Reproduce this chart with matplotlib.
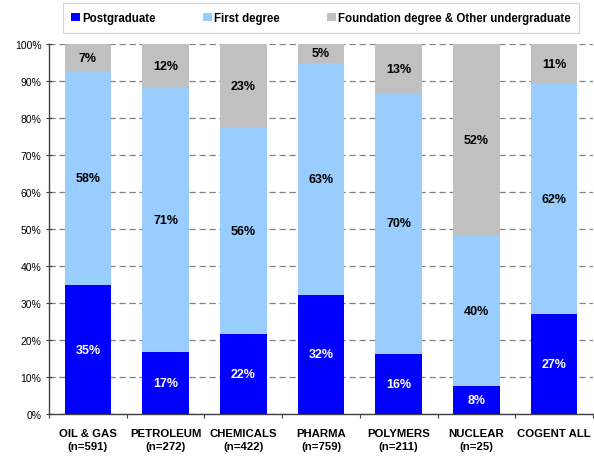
import matplotlib
matplotlib.use("Agg")
import matplotlib.pyplot as plt
import numpy as np

plt.rcParams['font.family'] = ['Liberation Sans', 'DejaVu Sans']

categories = ["OIL & GAS\n(n=591)", "PETROLEUM\n(n=272)", "CHEMICALS\n(n=422)",
              "PHARMA\n(n=759)", "POLYMERS\n(n=211)", "NUCLEAR\n(n=25)", "COGENT ALL"]
postgraduate = [34.8, 16.7, 21.6, 32.2, 16.3, 7.7, 27.1]
first_degree = [57.8, 71.4, 55.7, 62.8, 70.4, 40.4, 62.0]
other_ug = [7.4, 11.9, 22.7, 5.0, 13.3, 51.9, 10.9]
series_names = ["Postgraduate", "First degree", "Foundation degree & Other undergraduate"]
yticks = [0, 10, 20, 30, 40, 50, 60, 70, 80, 90, 100]

colors = ["#0000FF", "#99CCFF", "#C0C0C0"]
text_colors = ["white", "black", "black"]

fig = plt.figure(figsize=(5.94, 4.6), dpi=100)
ax = fig.add_axes([49/594, 1-415/460, 544/594, 370/460])

x = np.arange(len(categories))
bottom = np.zeros(len(categories))
handles = []
for vals, col, tc, name in zip([postgraduate, first_degree, other_ug], colors, text_colors, series_names):
    vals = np.array(vals)
    b = ax.bar(x, vals, bottom=bottom, width=0.6, color=col, zorder=3, label=name)
    handles.append(b)
    for xi, v, bt in zip(x, vals, bottom):
        ax.text(xi, bt + v/2, f"{round(v):d}%", ha='center', va='center',
                color=tc, fontsize=9, fontweight='bold', zorder=4)
    bottom += vals

ax.set_xlim(-0.5, len(categories)-0.5)
ax.set_ylim(0, 100)
ax.set_yticks(yticks)
ax.set_yticklabels([f"{t}%" for t in yticks], fontsize=7.5)
ax.yaxis.grid(True, linestyle=(0, (5, 3)), color='#808080', linewidth=0.9, zorder=0)
ax.set_axisbelow(True)

ax.set_xticks(np.arange(-0.5, len(categories)-0.4, 1.0))
ax.set_xticklabels([])
ax.set_xticks(x, minor=True)
ax.set_xticklabels(categories, minor=True, fontsize=8.2, fontweight='bold',
                   linespacing=1.35)
ax.tick_params(axis='x', which='minor', length=0, pad=10)
ax.tick_params(axis='x', which='major', length=3, direction='out', color='#404040')
ax.tick_params(axis='y', length=5, direction='inout', color='#404040', pad=3)

for s in ['top', 'right']:
    ax.spines[s].set_visible(False)
for s in ['left', 'bottom']:
    ax.spines[s].set_color('#404040')
    ax.spines[s].set_linewidth(1.0)

leg = fig.legend(handles=handles, labels=series_names, loc='center',
                 bbox_to_anchor=(321/594, 1-19/460), ncol=3,
                 frameon=True, fancybox=False, edgecolor='#C8C8C8',
                 handlelength=0.75, handleheight=0.75, handletextpad=0.2,
                 columnspacing=4.1, borderpad=0.75,
                 prop={'weight': 'bold', 'size': 8.3})
leg.get_frame().set_linewidth(0.8)

fig.savefig("out.png", dpi=100)
